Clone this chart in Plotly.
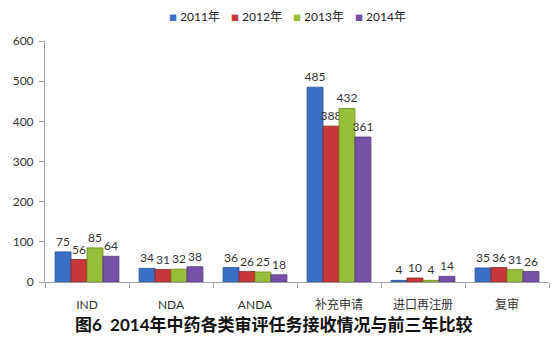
import plotly.graph_objects as go

categories = ["IND", "NDA", "ANDA", "补充申请", "进口再注册", "复审"]
years = ["2011年", "2012年", "2013年", "2014年"]
values_2011 = [75, 34, 36, 485, 4, 35]
values_2012 = [56, 31, 26, 388, 10, 36]
values_2013 = [85, 32, 25, 432, 4, 31]
values_2014 = [64, 38, 18, 361, 14, 26]
y_ticks = [0, 100, 200, 300, 400, 500, 600]

series = [values_2011, values_2012, values_2013, values_2014]
colors = ["#3B6FC6", "#C8383A", "#98BE3A", "#7652A6"]
edges = ["#28508F", "#8E2224", "#6E8C22", "#523878"]

FONT = "Lato, 'Noto Sans CJK SC', sans-serif"

fig = go.Figure()
for name, vals, c, e in zip(years, series, colors, edges):
    fig.add_trace(go.Bar(
        x=categories, y=vals, name=name,
        marker=dict(color=c, line=dict(color=e, width=0.8)),
        text=[str(v) for v in vals], textposition="outside",
        textfont=dict(size=12, color="#333333", family=FONT),
        cliponaxis=False, showlegend=False,
    ))

# compact legend row: small coloured squares followed by the year
legend_x0 = 167
legend_step = 62
for i, (name, c) in enumerate(zip(years, colors)):
    fig.add_annotation(
        text=f"<span style='color:{c};font-size:8px'>■</span> {name}",
        xref="paper", yref="paper",
        x=(legend_x0 + i * legend_step - 45) / 504, y=1.0 + (41 - 17) / 241,
        xanchor="left", yanchor="middle", showarrow=False,
        font=dict(size=12, color="#222222", family=FONT),
    )

fig.update_layout(
    width=554, height=340,
    margin=dict(l=45, r=5, t=41, b=58),
    paper_bgcolor="white", plot_bgcolor="white",
    barmode="group", bargap=0.24, bargroupgap=0.0,
    font=dict(family=FONT, size=12, color="#333333"),
    showlegend=False,
    uniformtext=dict(minsize=12, mode="show"),
)

fig.update_xaxes(
    showline=True, linecolor="#A0A0A0", linewidth=1,
    ticks="outside", tickson="boundaries", ticklen=5, tickcolor="#A0A0A0",
    tickfont=dict(size=12, color="#333333"), showgrid=False,
    ticklabelstandoff=12,
)
fig.update_yaxes(
    range=[0, 600], tickvals=y_ticks, showline=True, linecolor="#A0A0A0", linewidth=1,
    ticks="outside", ticklen=5, tickcolor="#A0A0A0", showgrid=False, zeroline=False,
    tickfont=dict(size=12, color="#333333"), ticklabelstandoff=3,
)

fig.add_annotation(
    text="<b>图6  2014年中药各类审评任务接收情况与前三年比较</b>",
    xref="paper", yref="paper", x=(274 - 45) / 504, y=-0.178, yanchor="middle",
    showarrow=False, font=dict(size=17, color="#111111", family=FONT),
)

fig.write_html("out.html")
